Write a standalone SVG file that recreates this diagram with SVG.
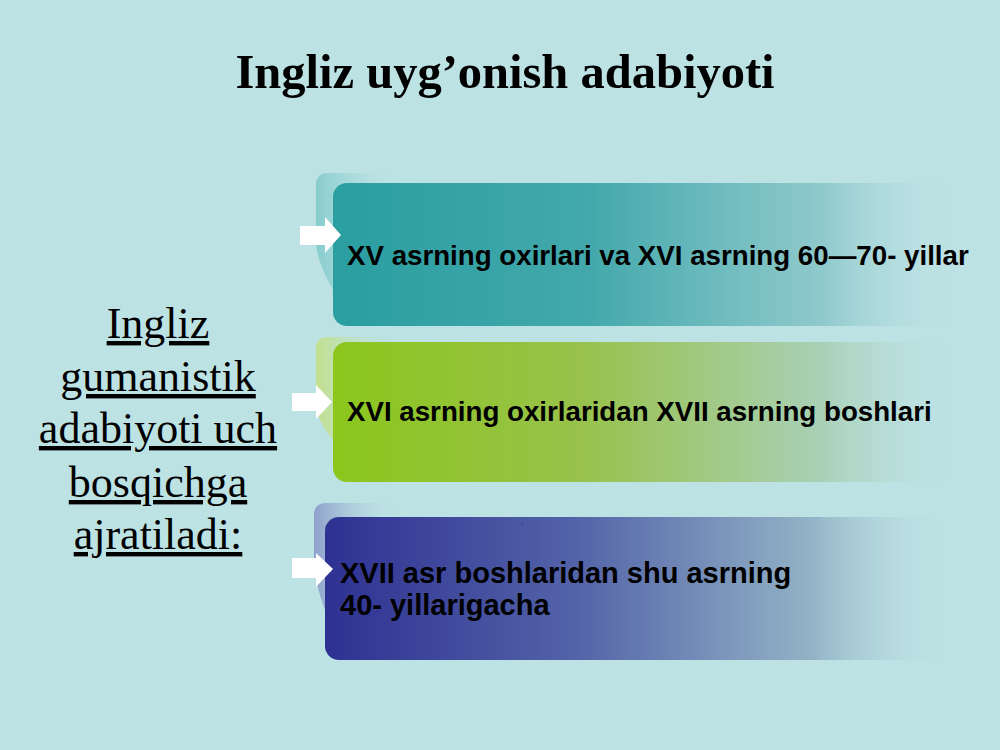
<svg xmlns="http://www.w3.org/2000/svg" width="1000" height="750" viewBox="0 0 1000 750">
<defs>
<style>
.title{font-family:"Liberation Serif",serif;font-weight:bold;font-size:48.5px;fill:#000}
.side{font-family:"Liberation Serif",serif;font-size:44px;fill:#000;text-decoration:underline}
.lbl{font-family:"Liberation Sans",Arial,sans-serif;font-weight:bold;font-size:27.7px;fill:#000}
.lbl3{font-size:29px}
.arrow{fill:#ffffff}
</style>
<linearGradient id="g1" x1="0" y1="0" x2="1" y2="0">
<stop offset="0" stop-color="#2a9ea1"/>
<stop offset="0.4" stop-color="#42a8ab"/>
<stop offset="0.78" stop-color="#8fc9cc"/>
<stop offset="1" stop-color="#bde2e4" stop-opacity="0"/>
</linearGradient>
<linearGradient id="g2" x1="0" y1="0" x2="1" y2="0">
<stop offset="0" stop-color="#8cc61c"/>
<stop offset="0.4" stop-color="#98c24c"/>
<stop offset="0.78" stop-color="#a9d0b6"/>
<stop offset="1" stop-color="#bde2e4" stop-opacity="0"/>
</linearGradient>
<linearGradient id="g3" x1="0" y1="0" x2="1" y2="0">
<stop offset="0" stop-color="#2e3192"/>
<stop offset="0.4" stop-color="#5363a8"/>
<stop offset="0.78" stop-color="#93b3c6"/>
<stop offset="1" stop-color="#bde2e4" stop-opacity="0"/>
</linearGradient>
<linearGradient id="t1" x1="0" y1="0" x2="1" y2="0">
<stop offset="0" stop-color="#86cccd"/>
<stop offset="1" stop-color="#bde2e4" stop-opacity="0"/>
</linearGradient>
<linearGradient id="t2" x1="0" y1="0" x2="1" y2="0">
<stop offset="0" stop-color="#c2e08a"/>
<stop offset="1" stop-color="#bde2e4" stop-opacity="0"/>
</linearGradient>
<linearGradient id="t3" x1="0" y1="0" x2="1" y2="0">
<stop offset="0" stop-color="#8f9fcb"/>
<stop offset="1" stop-color="#bde2e4" stop-opacity="0"/>
</linearGradient>
</defs>
<rect x="0" y="0" width="1000" height="750" fill="#bde2e4"/>
<text class="title" x="505" y="88" text-anchor="middle">Ingliz uyg’onish adabiyoti</text>
<g id="intro">
<text class="side" text-anchor="middle"><tspan x="158" y="338">Ingliz</tspan><tspan x="158" y="391">gumanistik</tspan><tspan x="158" y="443">adabiyoti uch</tspan><tspan x="158" y="497">bosqichga</tspan><tspan x="158" y="549">ajratiladi:</tspan></text>
</g>
<g id="stage1">
<path d="M316,185 Q316,173 328,173 L400,173 L400,190 Q345,200 333,290 Q316,260 316,240 Z" fill="url(#t1)"/>
<rect x="333" y="183" width="627" height="143" rx="14" fill="url(#g1)"/>
<text class="lbl" x="347" y="265">XV asrning oxirlari va XVI asrning 60—70- yillar</text>
</g>
<g id="stage2">
<path d="M316,349 Q316,337 328,337 L400,337 L400,352 Q345,362 333,440 Q316,420 316,400 Z" fill="url(#t2)"/>
<rect x="333" y="342" width="627" height="140" rx="14" fill="url(#g2)"/>
<text class="lbl" x="347" y="421">XVI asrning oxirlaridan XVII asrning boshlari</text>
</g>
<g id="stage3">
<path d="M314,515 Q314,503 326,503 L400,503 L400,520 Q340,528 325,610 Q314,580 314,560 Z" fill="url(#t3)"/>
<rect x="325" y="517" width="625" height="143" rx="14" fill="url(#g3)"/>
<text x="521" y="524" font-family="Liberation Sans,sans-serif" font-size="8" fill="#000">.</text>
<text class="lbl lbl3"><tspan x="340" y="583">XVII asr boshlaridan shu asrning</tspan><tspan x="340" y="615">40- yillarigacha</tspan></text>
</g>
<g id="connectors">
<path class="arrow" d="M300,226 L325,226 L325,217 L341,235 L325,253 L325,245 L300,245 Z"/>
<path class="arrow" d="M292,393 L316,393 L316,385 L332,402 L316,419 L316,411 L292,411 Z"/>
<path class="arrow" d="M292,558 L316,558 L316,553 L333,569 L316,587 L316,578 L292,578 Z"/>
</g>
</svg>
